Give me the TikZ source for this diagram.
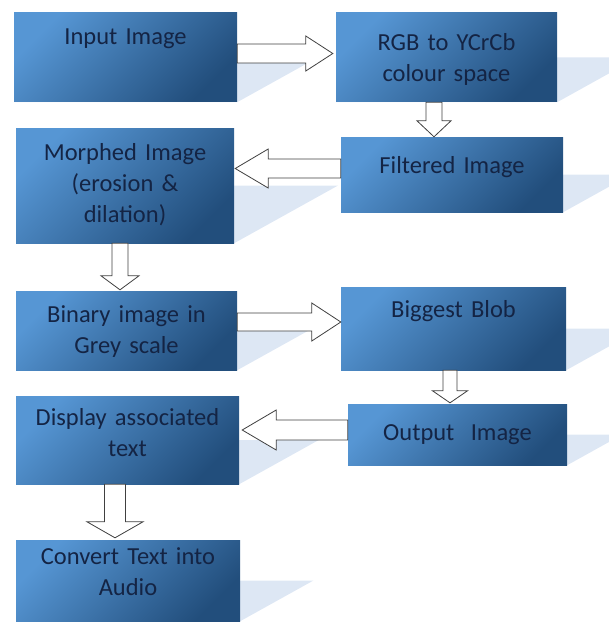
\documentclass[tikz,border=0pt]{standalone}
\usepackage{fontspec}
\setmainfont{Carlito}
\usetikzlibrary{calc,backgrounds}

\definecolor{boxlight}{RGB}{86,150,212}
\definecolor{boxdark}{RGB}{34,78,124}
\definecolor{boxtext}{RGB}{20,36,68}
\definecolor{shadowblue}{RGB}{221,231,244}

\tikzset{
    blk/.style={rectangle, inner sep=0pt, align=center, text=boxtext,
        top color=boxlight, bottom color=boxdark, shading angle=45,
        font=\fontsize{24.5}{31}\selectfont, anchor=base},
    % block arrow: shaft half width / head half width / head length
    fat/.style n args={3}{draw=black!75, line width=0.8pt, fill=white,
        to path={($(\tikztostart)!#1!90:(\tikztotarget)$)
            -- ($(\tikztotarget)!#3!(\tikztostart)!#1!-90:(\tikztostart)$)
            -- ($(\tikztotarget)!#3!(\tikztostart)!#2!-90:(\tikztostart)$)
            -- (\tikztotarget)
            -- ($(\tikztotarget)!#3!(\tikztostart)!#2!90:(\tikztostart)$)
            -- ($(\tikztotarget)!#3!(\tikztostart)!#1!90:(\tikztostart)$)
            -- ($(\tikztostart)!#1!-90:(\tikztotarget)$) -- cycle}}
}

\begin{document}
\begin{tikzpicture}[x=1pt,y=-1pt]
        \useasboundingbox (0,0) rectangle (608,623);

        \node[blk, text width=223pt, text height=32pt, text depth=57pt] (inp) at (125.5,45) {Input Image};
        \node[blk, text width=221pt, text height=38pt, text depth=51pt] (rgb) at (446.5,51) {RGB to YCrCb\\colour space};
        \node[blk, text width=222pt, text height=36pt, text depth=39pt] (fil) at (452,173) {Filtered Image};
        \node[blk, text width=218pt, text height=32pt, text depth=83pt] (mor) at (125,160) {Morphed Image\\(erosion \&\\dilation)};

        \node[blk, text width=221pt, text height=31pt, text depth=48pt] (bin) at (126.5,322) {Binary image in\\Grey scale};
        \node[blk, text width=225pt, text height=30pt, text depth=53pt] (blob) at (453.5,317) {Biggest Blob};
        \node[blk, text width=219pt, text height=36pt, text depth=25pt] (out) at (457.5,440) {Output~ Image};
        \node[blk, text width=223pt, text height=29pt, text depth=59pt] (dis) at (127.5,425) {Display associated\\text};
        \node[blk, text width=224pt, text height=24pt, text depth=57pt] (conv) at (128,564) {Convert Text into\\Audio};

        \begin{scope}[on background layer]
            \foreach \b in {inp,rgb,fil,mor,bin,blob,out,dis,conv}
                \fill[shadowblue] let \p1=(\b.south west), \p2=(\b.north east) in
                    (\p1) -- (\x2,\y1) -- ++({0.9*(\y2-\y1)},{0.5*(\y2-\y1)})
                    -- ++({\x1-\x2},0pt) -- cycle;
        \end{scope}

        \draw[fat={9.5pt}{17.5pt}{27pt}] ([yshift=4pt]inp.east) to ([xshift=-3pt,yshift=4pt]rgb.west);
        \draw[fat={8pt}{17pt}{16pt}] ([xshift=-12.5pt]rgb.south) to ([xshift=-18pt]fil.north);
        \draw[fat={9.5pt}{19.5pt}{33pt}] ([yshift=6pt]fil.west) to ([xshift=1pt,yshift=17pt]mor.east);
        \draw[fat={8pt}{19pt}{14pt}] ([xshift=-5pt]mor.south) to ([xshift=-6.5pt,yshift=1pt]bin.north);
        \draw[fat={9pt}{19pt}{29pt}] ([yshift=8.5pt]bin.east) to ([yshift=6.5pt]blob.west);
        \draw[fat={7pt}{17.5pt}{12pt}] ([xshift=-3.5pt]blob.south) to ([xshift=-7.5pt,yshift=1pt]out.north);
        \draw[fat={10pt}{20pt}{34pt}] ([yshift=4.5pt]out.west) to ([xshift=3pt,yshift=10pt]dis.east);
        \draw[fat={10.5pt}{28pt}{16pt}] ([xshift=-12.5pt]dis.south) to ([xshift=-13pt,yshift=2pt]conv.north);

    \end{tikzpicture}
\end{document}
